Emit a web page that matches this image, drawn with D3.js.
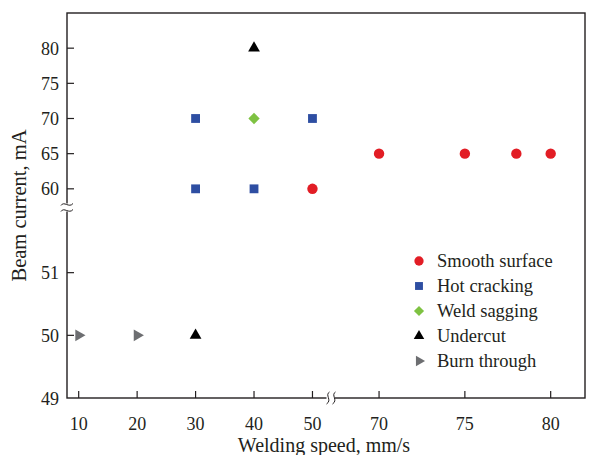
<!DOCTYPE html>
<html><head><meta charset="utf-8">
<script src="https://cdn.jsdelivr.net/npm/d3@7"></script>
<style>body{margin:0;background:#fff}svg{display:block}text{font-family:"Liberation Serif","DejaVu Serif",serif;fill:#231f20}</style>
</head><body><svg id="c" width="597" height="455"></svg>
<script>
const xTicks = [10, 20, 30, 40, 50, 70, 75, 80];
const yTicks = [49, 50, 51, 60, 65, 70, 75, 80];
const smooth = [[50, 60], [70, 65], [75, 65], [78, 65], [80, 65]];
const hotCracking = [[30, 70], [50, 70], [30, 60], [40, 60]];
const weldSagging = [[40, 70]];
const undercut = [[40, 80], [30, 50]];
const burnThrough = [[10, 50], [20, 50]];
const seriesNames = ["Smooth surface", "Hot cracking", "Weld sagging", "Undercut", "Burn through"];

const svg = d3.select("#c");
const L = 67, R = 585, T = 13, B = 398;
const x = d3.scaleLinear().domain([8, 53, 67.2, 82]).range([L, 330, 331, R]);
const y = d3.scaleLinear().domain([49, 52, 57.7, 85]).range([B, 210, 205, T]);
const ink = "#231f20";

const series = [
  {name: seriesNames[0], data: smooth, type: d3.symbolCircle, size: 85, color: "#e21d25"},
  {name: seriesNames[1], data: hotCracking, type: d3.symbolSquare, size: 78, color: "#2e4ea2"},
  {name: seriesNames[2], data: weldSagging, type: d3.symbolSquare, size: 64, color: "#7ec242", rot: 45},
  {name: seriesNames[3], data: undercut, type: d3.symbolTriangle, size: 60, color: "#000000"},
  {name: seriesNames[4], data: burnThrough, type: d3.symbolTriangle, size: 60, color: "#6d6e71", rot: 90}
];

// frame
svg.append("rect").attr("x", L).attr("y", T).attr("width", R - L).attr("height", B - T)
  .attr("fill", "none").attr("stroke", ink).attr("stroke-width", 1.4);

// x ticks
const gx = svg.append("g");
xTicks.forEach(v => {
  gx.append("line").attr("x1", x(v)).attr("x2", x(v)).attr("y1", B).attr("y2", B - 7).attr("stroke", ink).attr("stroke-width", 1.2);
  gx.append("text").attr("x", x(v)).attr("y", B + 32).attr("text-anchor", "middle").attr("font-size", 18).text(v);
});
// y ticks
const gy = svg.append("g");
yTicks.forEach(v => {
  if (v !== 49) gy.append("line").attr("x1", L).attr("x2", L + 7).attr("y1", y(v)).attr("y2", y(v)).attr("stroke", ink).attr("stroke-width", 1.2);
  gy.append("text").attr("x", L - 8).attr("y", y(v) + 6.5).attr("text-anchor", "end").attr("font-size", 18).text(v);
});

// breaks
const xb = (x(53) + x(67.2)) / 2;
svg.append("rect").attr("x", xb - 4).attr("y", B - 3).attr("width", 8).attr("height", 6).attr("fill", "#fff");
[-3, 3].forEach(d => {
  svg.append("path").attr("d", `M${xb + d + 2},${B - 6} C${xb + d - 3},${B - 3} ${xb + d + 5},${B + 2} ${xb + d - 1},${B + 6}`)
    .attr("fill", "none").attr("stroke", ink).attr("stroke-width", 1);
});
const yb = (y(52) + y(57.7)) / 2;
svg.append("rect").attr("x", L - 3).attr("y", yb - 4).attr("width", 6).attr("height", 8).attr("fill", "#fff");
[-3, 3].forEach(d => {
  svg.append("path").attr("d", `M${L - 6},${yb + d + 1} C${L - 3},${yb + d - 4} ${L + 2},${yb + d + 4} ${L + 6},${yb + d - 1}`)
    .attr("fill", "none").attr("stroke", ink).attr("stroke-width", 1);
});

// points
series.forEach(s => {
  const sym = d3.symbol().type(s.type).size(s.size);
  svg.append("g").selectAll("path").data(s.data).join("path")
    .attr("d", sym)
    .attr("transform", d => `translate(${x(d[0])},${y(d[1])}) rotate(${s.rot || 0})`)
    .attr("fill", s.color);
});

// legend
const lg = svg.append("g");
series.forEach((s, i) => {
  const yy = 261 + i * 25;
  lg.append("path").attr("d", d3.symbol().type(s.type).size(s.size * 0.8))
    .attr("transform", `translate(419,${yy}) rotate(${s.rot || 0})`).attr("fill", s.color);
  lg.append("text").attr("x", 437).attr("y", yy + 6).attr("font-size", 18.5).text(s.name);
});

// axis titles
svg.append("text").attr("x", 324).attr("y", 452).attr("text-anchor", "middle").attr("font-size", 20).text("Welding speed, mm/s");
svg.append("text").attr("transform", `translate(26,${(T + B) / 2}) rotate(-90)`).attr("text-anchor", "middle").attr("font-size", 20.5).text("Beam current, mA");
</script></body></html>
